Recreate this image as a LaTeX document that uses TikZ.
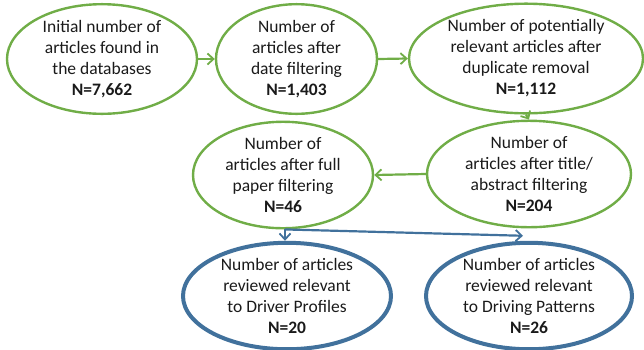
\documentclass[tikz,border=0pt]{standalone}
\usepackage{fontspec}
\setmainfont{Carlito}
\usetikzlibrary{shapes.geometric,arrows.meta,calc}
\definecolor{gr}{HTML}{70AD47}
\definecolor{bl}{HTML}{41719C}
\definecolor{tx}{HTML}{1A1A1A}
\begin{document}
\begin{tikzpicture}[x=1pt,y=-1pt,
  ell/.style={ellipse,inner sep=0pt,align=center,text=tx,
    font=\fontsize{17.5}{21}\selectfont},
  gell/.style={ell,draw=gr,line width=2.4pt},
  bell/.style={ell,draw=bl,line width=4pt},
  garr/.style={draw=gr,line width=2.2pt,-{Straight Barb[length=6pt,width=11pt,line width=1.8pt]}},
  barr/.style={draw=bl,line width=2.2pt,-{Straight Barb[length=6pt,width=11pt,line width=1.8pt]}}]
\useasboundingbox (0,0) rectangle (644,349);
\node[gell,minimum width=190pt,minimum height=102pt] (e1) at (102,59)
  {Initial number of\\articles found in\\the databases\\\textbf{N=7,662}};
\node[gell,minimum width=161pt,minimum height=102pt] (e2) at (296.5,59)
  {Number of\\articles after\\date filtering\\\textbf{N=1,403}};
\node[gell,minimum width=234pt,minimum height=101pt] (e3) at (526,58.5)
  {Number of potentially\\relevant articles after\\duplicate removal\\\textbf{N=1,112}};
\node[gell,minimum width=204pt,minimum height=102pt] (e5) at (529,174)
  {Number of\\articles after title/\\abstract filtering\\\textbf{N=204}};
\node[gell,minimum width=180pt,minimum height=100pt] (e4) at (283,175)
  {Number of\\articles after full\\paper filtering\\\textbf{N=46}};
\node[bell,minimum width=208pt,minimum height=100pt] (e6) at (287,296)
  {Number of articles\\reviewed relevant\\to Driver Profiles\\\textbf{N=20}};
\node[bell,minimum width=206pt,minimum height=100pt] (e7) at (529,296)
  {Number of articles\\reviewed relevant\\to Driving Patterns\\\textbf{N=26}};
\coordinate (s4) at ($(e4.south)+(2,0)$);
\coordinate (t6) at (s4 |- e6.north);
\coordinate (t7) at ($(e7.north)+(-6,-5)$);
\draw[garr] (e1.east) -- (e2.west);
\draw[garr] (e2.east) -- (e3.west);
\draw[garr] (e3.south) -- (e5.north);
\draw[garr] (e5.west) -- (e4.east);
\draw[barr] (s4) -- (t6);
\draw[barr] (s4) -- (t7);
\end{tikzpicture}
\end{document}
